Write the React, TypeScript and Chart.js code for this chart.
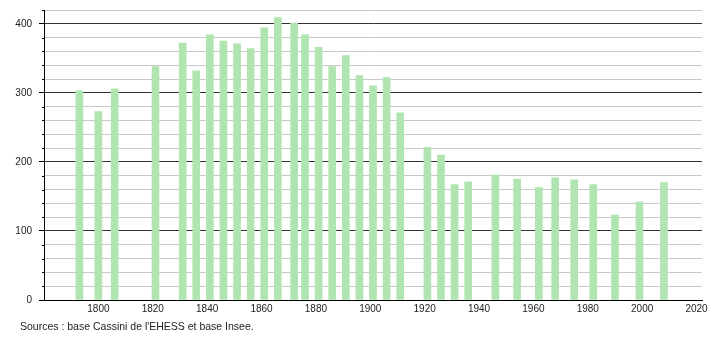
import React, { useEffect, useRef } from "react";
import { Chart, registerables } from "chart.js";

Chart.register(...registerables);

const years = [1793, 1800, 1806, 1821, 1831, 1836, 1841, 1846, 1851, 1856, 1861, 1866, 1872, 1876, 1881, 1886, 1891, 1896, 1901, 1906, 1911, 1921, 1926, 1931, 1936, 1946, 1954, 1962, 1968, 1975, 1982, 1990, 1999, 2008];
const population = [303, 273, 306, 338, 372, 332, 384, 375, 371, 364, 394, 409, 401, 384, 366, 338, 354, 325, 310, 322, 271, 221, 210, 167, 171, 181, 175, 163, 177, 174, 167, 123, 142, 170];
const xTickYears = [1800, 1820, 1840, 1860, 1880, 1900, 1920, 1940, 1960, 1980, 2000, 2020];
const sourceText = "Sources : base Cassini de l'EHESS et base Insee.";

const FONT = "'Liberation Sans', Arial, sans-serif";

export default function App() {
  const ref = useRef<HTMLCanvasElement | null>(null);

  useEffect(() => {
    if (!ref.current) return;
    const extras = {
      id: "extras",
      afterDraw(chart: any) {
        const ctx = chart.ctx;
        const y = chart.scales.y;
        const x = chart.scales.x;
        const x0 = chart.chartArea.left;
        ctx.save();
        ctx.strokeStyle = "#000";
        ctx.lineWidth = 1;
        for (const t of y.ticks) {
          if (t.value % 100 !== 0) {
            const py = Math.round(y.getPixelForValue(t.value)) + 0.5;
            ctx.beginPath();
            ctx.moveTo(x0 - 2, py);
            ctx.lineTo(x0, py);
            ctx.stroke();
          }
        }
        ctx.fillStyle = "#222";
        ctx.font = "10px " + FONT;
        ctx.textBaseline = "middle";
        ctx.textAlign = "center";
        for (const yr of xTickYears) {
          ctx.fillText(String(yr), x.getPixelForValue(yr), chart.chartArea.bottom + 9);
        }
        ctx.font = "10.5px " + FONT;
        ctx.textAlign = "left";
        ctx.fillText(sourceText, 12, chart.chartArea.bottom + 27);
        ctx.restore();
      },
    };

    const chart = new Chart(ref.current, {
      type: "bar",
      data: {
        datasets: [
          {
            data: years.map((yr, i) => ({ x: yr, y: population[i] })),
            backgroundColor: "rgb(176, 228, 176)",
            borderWidth: 0,
            barThickness: 7,
          },
        ],
      },
      options: {
        animation: false,
        responsive: true,
        maintainAspectRatio: false,
        layout: { padding: { top: 2, right: 8, left: 0, bottom: 12 } },
        plugins: {
          legend: { display: false },
          tooltip: { enabled: false },
        },
        scales: {
          x: {
            type: "linear",
            min: 1780,
            max: 2022,
            offset: false,
            grid: { display: false, drawTicks: false },
            border: { display: true, color: "#000", width: 1 },
            ticks: { display: false },
            afterFit: (s: any) => {
              s.height = 20;
              s.paddingLeft = 0;
              s.paddingRight = 0;
            },
          },
          y: {
            min: 0,
            max: 420,
            grid: {
              color: (c: any) => (c.tick && c.tick.value % 100 === 0 ? "#333" : "#c8c8c8"),
              tickColor: (c: any) => (c.tick && c.tick.value % 100 === 0 ? "#000" : "rgba(0,0,0,0)"),
              tickLength: 5,
              lineWidth: 1,
            },
            border: { display: true, color: "#000", width: 1 },
            ticks: {
              stepSize: 20,
              autoSkip: false,
              padding: 7,
              color: "#222",
              font: { family: FONT, size: 10 },
              callback: (v: any) => (Number(v) % 100 === 0 ? String(v) : ""),
            },
            afterFit: (s: any) => {
              s.width = 36;
              s.paddingTop = 0;
              s.paddingBottom = 0;
            },
          },
        },
      },
      plugins: [extras],
    });
    return () => chart.destroy();
  }, []);

  return (
    <div style={{ position: "absolute", left: 8, top: 8, width: 702, height: 324 }}>
      <canvas ref={ref} />
    </div>
  );
}
